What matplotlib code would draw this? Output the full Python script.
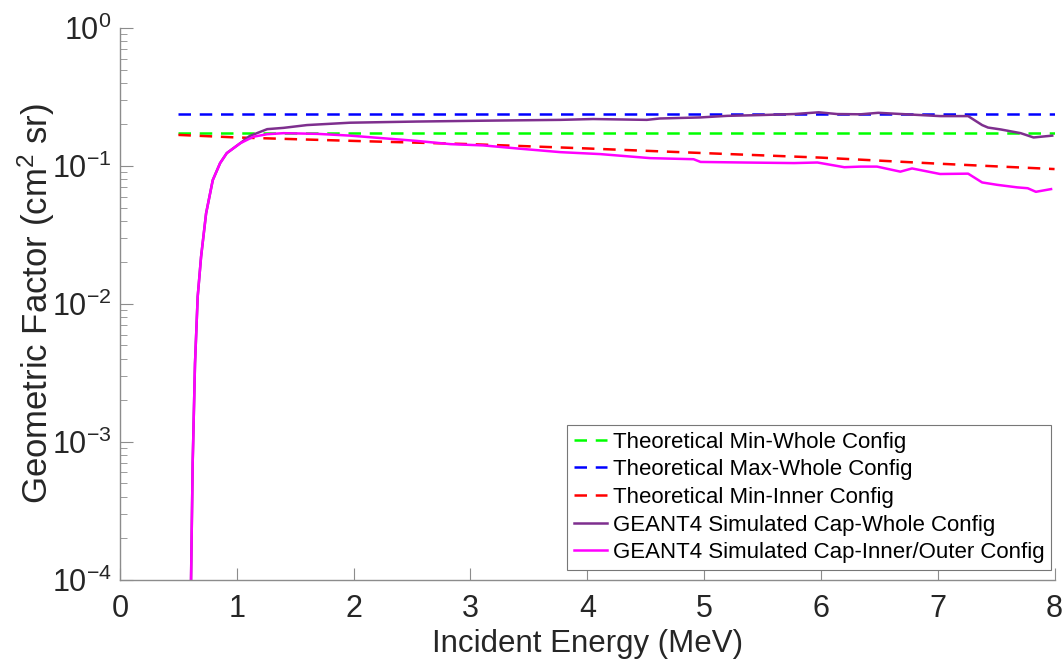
import numpy as np
import matplotlib
matplotlib.use("Agg")
import matplotlib.pyplot as plt
from matplotlib.ticker import LogLocator, FixedLocator, NullFormatter

# ======================================================
# DATA
# ======================================================

theory_x = [0.5, 1, 2, 3, 4, 5, 6, 7, 8]
min_whole = [0.173, 0.173, 0.173, 0.173, 0.173, 0.173, 0.173, 0.173, 0.173]
max_whole = [0.237, 0.237, 0.237, 0.237, 0.237, 0.237, 0.237, 0.237, 0.237]
min_inner = [0.168, 0.161, 0.152, 0.144, 0.134, 0.124, 0.115, 0.104, 0.095]

whole_x = [0.608, 0.622, 0.642, 0.665, 0.694, 0.737, 0.794, 0.857, 0.914, 1.028,
           1.11, 1.26, 1.40, 1.60, 1.97, 2.54, 3.11, 3.77, 4.05, 4.51, 4.62,
           4.97, 5.2, 5.48, 5.77, 5.98, 6.14, 6.34, 6.49, 7.02, 7.26, 7.38,
           7.43, 7.54, 7.71, 7.82, 7.98]
whole_y = [1e-4, 7.0e-4, 3.7e-3, 0.0113, 0.022, 0.0454, 0.079, 0.105, 0.124, 0.146,
           0.165, 0.185, 0.189, 0.198, 0.206, 0.210, 0.213, 0.216, 0.219, 0.216, 0.221,
           0.225, 0.231, 0.234, 0.238, 0.245, 0.238, 0.237, 0.243, 0.230, 0.230, 0.198,
           0.190, 0.184, 0.173, 0.161, 0.166]

inner_x = [0.608, 0.622, 0.642, 0.665, 0.694, 0.737, 0.794, 0.857, 0.914, 1.028,
           1.142, 1.26, 1.40, 1.69, 1.97, 2.25, 2.54, 2.83, 3.11, 3.40, 3.77,
           4.11, 4.54, 4.91, 4.97, 5.34, 5.77, 5.97, 6.2, 6.34, 6.48, 6.68,
           6.78, 7.02, 7.26, 7.38, 7.51, 7.68, 7.77, 7.84, 7.97]
inner_y = [1e-4, 7.0e-4, 3.7e-3, 0.0113, 0.022, 0.0454, 0.079, 0.105, 0.124, 0.146,
           0.163, 0.170, 0.173, 0.171, 0.166, 0.159, 0.152, 0.144, 0.141, 0.134, 0.126,
           0.122, 0.114, 0.112, 0.107, 0.106, 0.105, 0.106, 0.098, 0.099, 0.099, 0.091,
           0.096, 0.0875, 0.088, 0.076, 0.073, 0.070, 0.069, 0.065, 0.068]

x_ticks = [0, 1, 2, 3, 4, 5, 6, 7, 8]

# ======================================================
# STYLE
# ======================================================

plt.rcParams["font.family"] = ["Liberation Sans", "DejaVu Sans"]
plt.rcParams["mathtext.fontset"] = "custom"
plt.rcParams["mathtext.rm"] = "Liberation Sans"
plt.rcParams["mathtext.it"] = "Liberation Sans:italic"

AXIS_GRAY = "#8c8c8c"
TEXT = "#262626"

fig = plt.figure(figsize=(10.62, 6.68), dpi=100)
ax = fig.add_axes([0.113, 0.132, 0.880, 0.826])

# ======================================================
# PLOT
# ======================================================

dash = (0, (5, 3.5))
ax.plot(theory_x, min_whole, color="#00ff00", lw=1.8, linestyle=dash,
        label="Theoretical Min-Whole Config")
ax.plot(theory_x, max_whole, color="#0000ff", lw=1.8, linestyle=dash,
        label="Theoretical Max-Whole Config")
ax.plot(theory_x, min_inner, color="#ff0000", lw=1.8, linestyle=dash,
        label="Theoretical Min-Inner Config")
ax.plot(whole_x, whole_y, color="#7e2f8e", lw=1.8,
        label="GEANT4 Simulated Cap-Whole Config")
ax.plot(inner_x, inner_y, color="#ff00ff", lw=1.8,
        label="GEANT4 Simulated Cap-Inner/Outer Config")

ax.set_yscale("log")
ax.set_xlim(0, 8)
ax.set_ylim(1e-4, 1)
ax.xaxis.set_major_locator(FixedLocator(x_ticks))
ax.yaxis.set_major_locator(LogLocator(base=10, numticks=10))
ax.yaxis.set_minor_locator(LogLocator(base=10, subs=np.arange(2, 10), numticks=10))
ax.yaxis.set_minor_formatter(NullFormatter())

for side in ["top", "right"]:
    ax.spines[side].set_visible(False)
for side in ["left", "bottom"]:
    ax.spines[side].set_color(AXIS_GRAY)
    ax.spines[side].set_linewidth(1.0)

ax.tick_params(which="both", direction="in", colors=AXIS_GRAY, labelcolor=TEXT,
               labelsize=22)
ax.tick_params(which="major", length=9)
ax.tick_params(which="minor", length=5)
ax.tick_params(axis="x", pad=10)
ax.tick_params(axis="y", pad=6)

ax.set_xlabel("Incident Energy (MeV)", fontsize=22.5, color=TEXT, labelpad=4)
ax.set_ylabel("Geometric Factor (cm$^2$ sr)", fontsize=25, color=TEXT, labelpad=-4)

leg = ax.legend(loc="lower right", bbox_to_anchor=(0.996, 0.018),
                borderaxespad=0, fontsize=16, handlelength=1.5,
                handletextpad=0.25, labelspacing=0.3, borderpad=0.3,
                fancybox=False, framealpha=1, edgecolor="#777777")
leg.get_frame().set_linewidth(0.8)

fig.savefig("out.png", dpi=100)
